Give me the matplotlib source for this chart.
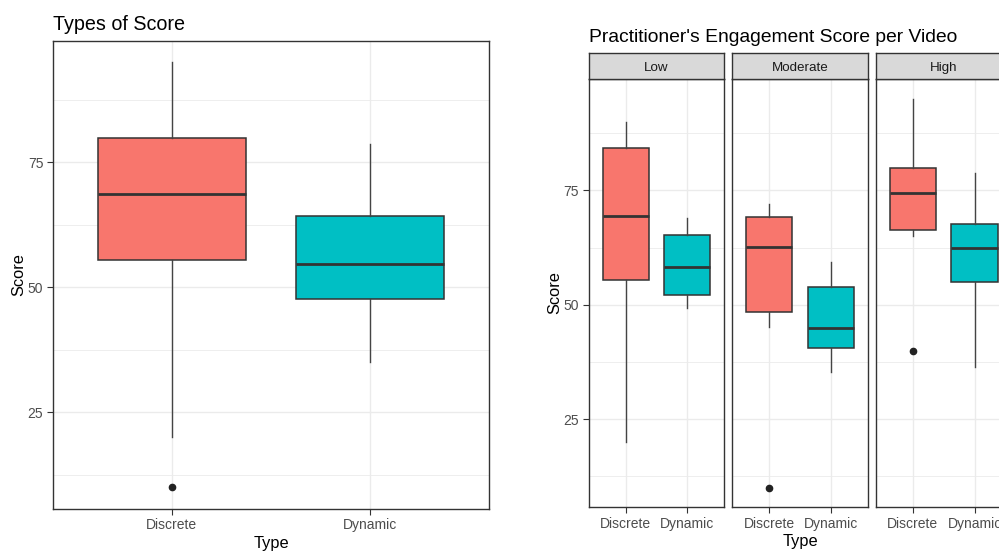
import matplotlib
matplotlib.use("Agg")
import matplotlib.pyplot as plt
from matplotlib.ticker import FixedLocator

plt.rcParams['font.family'] = ['Liberation Sans', 'DejaVu Sans']

# ---- data ----
types = ["Discrete", "Dynamic"]
fill_colors = ["#F8766D", "#00BFC4"]

# overall: (lower whisker, q1, median, q3, upper whisker)
overall_stats = [
    (20.0, 55.4, 68.7, 79.8, 95.0),
    (35.0, 47.7, 54.6, 64.3, 78.7),
]
overall_outliers = [[10.0], []]

levels = ["Low", "Moderate", "High"]
level_stats = {
    "Low": [(20.0, 55.4, 69.4, 84.3, 90.0), (49.2, 52.2, 58.3, 65.2, 68.9)],
    "Moderate": [(45.2, 48.4, 62.6, 69.1, 72.0), (35.2, 40.5, 44.9, 53.8, 59.4)],
    "High": [(65.0, 66.3, 74.4, 79.8, 95.0), (36.4, 55.0, 62.3, 67.7, 78.7)],
}
level_outliers = {
    "Low": [[], []],
    "Moderate": [[10.0], []],
    "High": [[40.0], []],
}

y_ticks = [25, 50, 75]
y_minor = [12.5, 37.5, 62.5, 87.5]
y_lim = (5.75, 99.25)

W, H = 999, 551
fig = plt.figure(figsize=(W / 100, H / 100), dpi=100)

EDGE = "#333333"
TICK_C = "#4D4D4D"


def px_axes(x0, y0, x1, y1):
    return fig.add_axes([x0 / W, 1 - y1 / H, (x1 - x0) / W, (y1 - y0) / H])


def draw_boxes(ax, stats, outliers, show_y):
    bxp_stats = []
    for (lo, q1, med, q3, hi), fl in zip(stats, outliers):
        bxp_stats.append(dict(whislo=lo, q1=q1, med=med, q3=q3, whishi=hi, fliers=fl))
    parts = ax.bxp(
        bxp_stats, positions=[1, 2], widths=0.75, patch_artist=True,
        showcaps=False,
        boxprops=dict(edgecolor=EDGE, linewidth=1.1),
        medianprops=dict(color=EDGE, linewidth=2.0),
        whiskerprops=dict(color="#444444", linewidth=1.0),
        flierprops=dict(marker="o", markerfacecolor="#222222", markeredgecolor="#222222",
                        markersize=4.5),
        zorder=3,
    )
    for patch, c in zip(parts["boxes"], fill_colors):
        patch.set_facecolor(c)
    ax.set_xlim(0.4, 2.6)
    ax.set_ylim(*y_lim)
    ax.set_xticks([1, 2])
    ax.set_xticklabels(types)
    ax.yaxis.set_major_locator(FixedLocator(y_ticks))
    ax.yaxis.set_minor_locator(FixedLocator(y_minor))
    ax.grid(True, which="major", color="#EBEBEB", linewidth=1.0, zorder=0)
    ax.grid(True, which="minor", axis="y", color="#EBEBEB", linewidth=0.6, zorder=0)
    ax.set_axisbelow(True)
    ax.tick_params(axis="both", which="major", length=4, width=0.8, color=EDGE,
                   labelcolor=TICK_C, labelsize=10, pad=3)
    ax.tick_params(axis="y", which="minor", length=0)
    if not show_y:
        ax.tick_params(axis="y", which="major", length=0, labelleft=False)
    for s in ax.spines.values():
        s.set_color(EDGE)
        s.set_linewidth(1.0)


# ---- left panel: overall ----
axL = px_axes(53, 41, 489, 508.7)
draw_boxes(axL, overall_stats, overall_outliers, True)
fig.text(53 / W, 1 - 29.5 / H, "Types of Score", fontsize=14.2, ha="left", va="baseline")
fig.text(18.5 / W, 1 - 275 / H, "Score", fontsize=11.8, rotation=90, ha="center", va="center")
fig.text(271 / W, 1 - 548 / H, "Type", fontsize=11.8, ha="center", va="baseline")

# ---- right panel: faceted by engagement level ----
panel_w = 135.6
gap = 8.0
px0 = 588.7
top, bottom = 79.3, 507.3
strip_top = 53.3
for i, lev in enumerate(levels):
    x0 = px0 + i * (panel_w + gap)
    ax = px_axes(x0, top, x0 + panel_w, bottom)
    draw_boxes(ax, level_stats[lev], level_outliers[lev], i == 0)
    sax = px_axes(x0, strip_top, x0 + panel_w, top)
    sax.set_facecolor("#D9D9D9")
    sax.set_xticks([])
    sax.set_yticks([])
    for s in sax.spines.values():
        s.set_color(EDGE)
        s.set_linewidth(1.0)
    sax.text(0.5, 0.45, lev, transform=sax.transAxes, ha="center", va="center",
             fontsize=9.6, color="#1A1A1A")

fig.text(589 / W, 1 - 42 / H, "Practitioner's Engagement Score per Video", fontsize=13.9,
         ha="left", va="baseline")
fig.text(555 / W, 1 - 293 / H, "Score", fontsize=11.8, rotation=90, ha="center", va="center")
fig.text(800.5 / W, 1 - 546 / H, "Type", fontsize=11.8, ha="center", va="baseline")

fig.savefig("out.png", dpi=100)
